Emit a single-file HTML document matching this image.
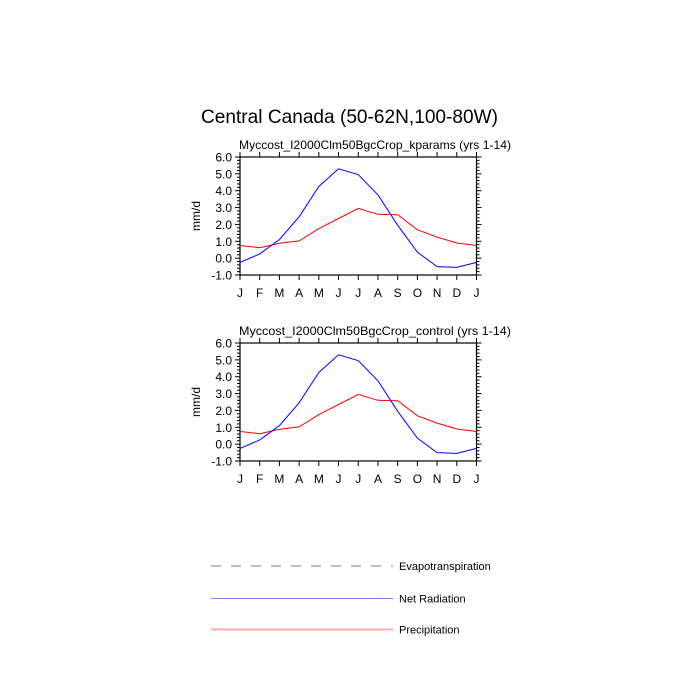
<!DOCTYPE html>
<html><head><meta charset="utf-8"><style>
html,body{margin:0;padding:0;background:#fff}
svg{display:block;font-family:"Liberation Sans",Arial,sans-serif}
</style></head><body>
<svg id="s" width="700" height="700" xmlns="http://www.w3.org/2000/svg">
<text x="349.5" y="123" font-size="19.5" text-anchor="middle" textLength="297" lengthAdjust="spacingAndGlyphs">Central Canada (50-62N,100-80W)</text>
<g id="p1"></g><g id="p2"></g>
<line x1="211" y1="566" x2="393" y2="566" stroke="#aaa" stroke-width="1.5" stroke-dasharray="10,10"/>
<text x="399" y="570" font-size="11">Evapotranspiration</text>
<line x1="211" y1="598.5" x2="393" y2="598.5" stroke="#7f7fff" stroke-width="1"/>
<text x="399" y="602.5" font-size="11">Net Radiation</text>
<rect x="211" y="628.5" width="182" height="2" fill="#ffaaaa"/>
<text x="399" y="633.5" font-size="11">Precipitation</text>
</svg>
<script>
var blue=[-0.25,0.25,1.1,2.45,4.25,5.3,4.95,3.75,1.95,0.35,-0.5,-0.55,-0.25];
var red=[0.75,0.62,0.88,1.02,1.75,2.35,2.95,2.6,2.58,1.68,1.25,0.9,0.75];
var M="JFMAMJJASONDJ";
function plot(id,top,title){
 var L=240,R=476.5,B=top+118,h=118,dx=(R-L)/12;
 function Y(v){return B-(v+1)/7*h;}
 var s='';
 s+='<text x="239" y="'+(top-8)+'" font-size="12" textLength="272" lengthAdjust="spacingAndGlyphs">'+title+'</text>';
 s+='<text transform="translate(200,'+(B-h/2)+') rotate(-90)" font-size="12" text-anchor="middle">mm/d</text>';
 for(var i=0;i<=35;i++){var v=-1+i*0.2,y=Y(v).toFixed(2),maj=(i%5==0),t=maj?5:3;
  s+='<line x1="'+(L-t)+'" y1="'+y+'" x2="'+L+'" y2="'+y+'" stroke="#000" stroke-width="1"/>';
  s+='<line x1="'+R+'" y1="'+y+'" x2="'+(R+t)+'" y2="'+y+'" stroke="#000" stroke-width="1"/>';
  if(maj)s+='<text x="'+(L-8)+'" y="'+(+y+4.5)+'" font-size="12" text-anchor="end">'+v.toFixed(1)+'</text>';}
 for(var i=0;i<=12;i++){var x=L+i*dx;
  s+='<line x1="'+x+'" y1="'+(top-5)+'" x2="'+x+'" y2="'+top+'" stroke="#000"/>';
  s+='<line x1="'+x+'" y1="'+B+'" x2="'+x+'" y2="'+(B+5)+'" stroke="#000"/>';
  s+='<text x="'+x+'" y="'+(B+22)+'" font-size="12" text-anchor="middle">'+M[i]+'</text>';}
 s+='<rect x="'+L+'" y="'+top+'" width="'+(R-L)+'" height="'+h+'" fill="none" stroke="#000" stroke-width="1.2"/>';
 function pl(d,c){return '<polyline fill="none" stroke="'+c+'" stroke-width="1" points="'+d.map(function(v,i){return (L+i*dx).toFixed(1)+','+Y(v).toFixed(1)}).join(' ')+'"/>';}
 s+=pl(red,'#f00')+pl(blue,'#00f');
 document.getElementById(id).innerHTML=s;
}
plot('p1',157,'Myccost_I2000Clm50BgcCrop_kparams (yrs 1-14)');
plot('p2',343,'Myccost_I2000Clm50BgcCrop_control (yrs 1-14)');
</script>
</body></html>
